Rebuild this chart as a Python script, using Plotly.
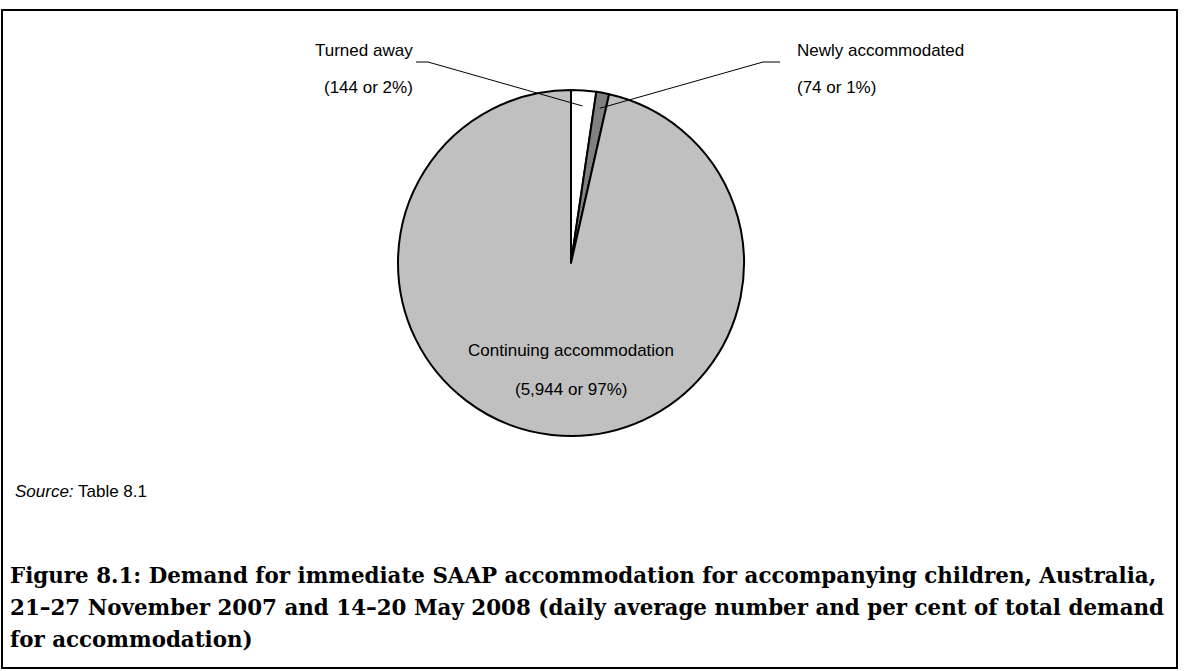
import math
import plotly.graph_objects as go

W, H = 1188, 671

categories = ["Turned away", "Newly accommodated", "Continuing accommodation"]
values = [144, 74, 5944]
percents = ["2%", "1%", "97%"]
colors = ["#ffffff", "#808080", "#c0c0c0"]

title_lines = [
    "Figure 8.1: Demand for immediate SAAP accommodation for accompanying children, Australia,",
    "21–27 November 2007 and 14–20 May 2008 (daily average number and per cent of total demand",
    "for accommodation)",
]
source_text = "<i>Source:</i> Table 8.1"


def px(x):
    return x / W


def py(y):
    return 1 - y / H


# pie geometry (pixels)
cx, cy, r = 571, 263, 173

fig = go.Figure()
fig.add_trace(go.Pie(
    labels=categories, values=values, sort=False, direction="clockwise", rotation=0,
    marker=dict(colors=colors, line=dict(color="black", width=2)),
    textinfo="none", hoverinfo="label+value+percent", showlegend=False,
    domain=dict(x=[px(cx - r), px(cx + r)], y=[py(cy + r), py(cy - r)]),
))

total = sum(values)
starts = []
acc = 0
for v in values:
    starts.append(acc)
    acc += v


def mid_point(i, frac):
    ang = (starts[i] + values[i] / 2) / total * 2 * math.pi
    return cx + frac * r * math.sin(ang), cy - frac * r * math.cos(ang)


def fmt(v):
    return f"{v:,}"


shapes = []
annotations = []
font = dict(family="Liberation Sans, Arial, sans-serif", size=17, color="black")

# Turned away label (left, right-aligned)
ex, ey = mid_point(0, 0.91)
shapes.append(dict(type="path", xref="paper", yref="paper",
                   path=f"M {px(416)} {py(62)} L {px(428)} {py(62)} L {px(ex)} {py(ey)}",
                   line=dict(color="black", width=1)))
annotations.append(dict(x=px(415), y=py(51), xref="paper", yref="paper", text=categories[0],
                        showarrow=False, font=font, xanchor="right", yanchor="middle"))
annotations.append(dict(x=px(415), y=py(87), xref="paper", yref="paper",
                        text=f"({fmt(values[0])} or {percents[0]})",
                        showarrow=False, font=font, xanchor="right", yanchor="middle"))

# Newly accommodated label (right, left-aligned)
ex, ey = mid_point(1, 0.91)
shapes.append(dict(type="path", xref="paper", yref="paper",
                   path=f"M {px(780)} {py(62)} L {px(763)} {py(62)} L {px(ex)} {py(ey)}",
                   line=dict(color="black", width=1)))
annotations.append(dict(x=px(795), y=py(51), xref="paper", yref="paper", text=categories[1],
                        showarrow=False, font=font, xanchor="left", yanchor="middle"))
annotations.append(dict(x=px(795), y=py(87), xref="paper", yref="paper",
                        text=f"({fmt(values[1])} or {percents[1]})",
                        showarrow=False, font=font, xanchor="left", yanchor="middle"))

# Continuing label (inside)
annotations.append(dict(x=px(cx), y=py(350), xref="paper", yref="paper", text=categories[2],
                        showarrow=False, font=font, xanchor="center", yanchor="middle"))
annotations.append(dict(x=px(cx), y=py(389), xref="paper", yref="paper",
                        text=f"({fmt(values[2])} or {percents[2]})",
                        showarrow=False, font=font, xanchor="center", yanchor="middle"))

# Source
annotations.append(dict(x=px(13), y=py(491), xref="paper", yref="paper", text=source_text,
                        showarrow=False, xanchor="left", yanchor="middle",
                        font=dict(family="Liberation Sans, Arial, sans-serif", size=17, color="black")))

# Title
for i, line in enumerate(title_lines):
    annotations.append(dict(x=px(8), y=py(575 + 32 * i), xref="paper", yref="paper",
                            text=f"<b>{line}</b>", showarrow=False, xanchor="left", yanchor="middle",
                            font=dict(family="DejaVu Serif, serif", size=21.4, color="black")))

# frame
shapes.append(dict(type="rect", xref="paper", yref="paper",
                   x0=px(2), x1=px(1177), y0=py(668), y1=py(10),
                   line=dict(color="black", width=2), fillcolor="rgba(0,0,0,0)"))

fig.update_layout(
    width=W, height=H, margin=dict(l=0, r=0, t=0, b=0),
    paper_bgcolor="white", plot_bgcolor="white",
    shapes=shapes, annotations=annotations,
)

fig.write_html(
    "out.html",
    config={"displayModeBar": False},
    post_script="document.body.style.margin='0';document.body.style.padding='0';document.body.style.overflow='hidden';",
)
